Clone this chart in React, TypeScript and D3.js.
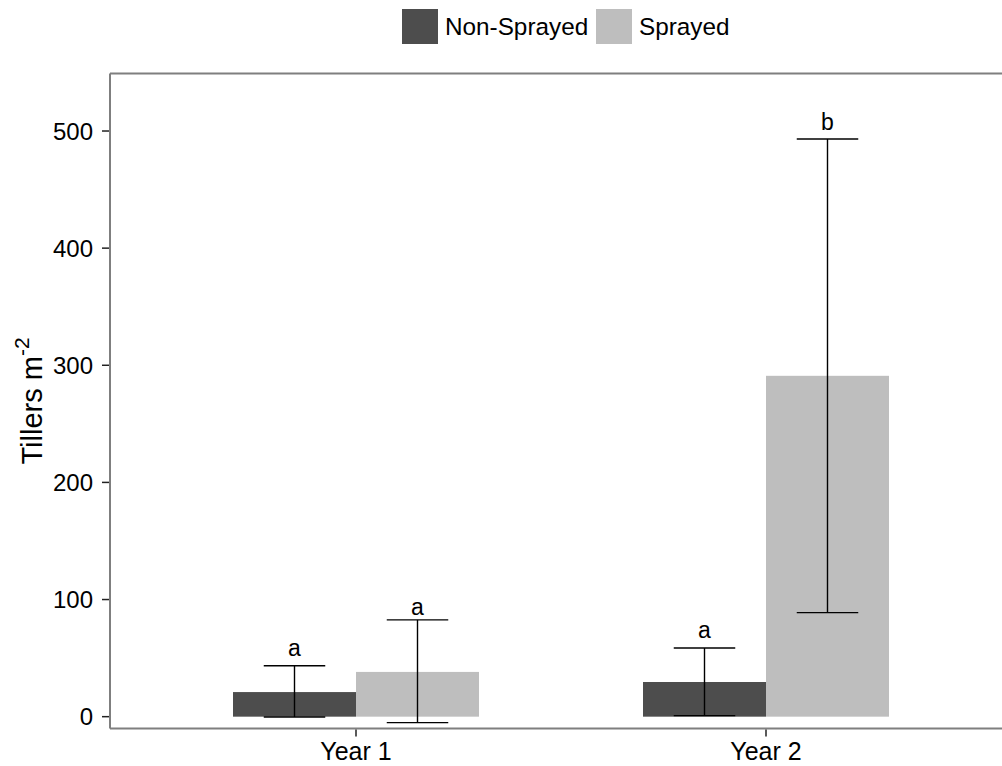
import React from "react";
import * as d3 from "d3";

const categories = ["Year 1", "Year 2"];
const seriesNames = ["Non-Sprayed", "Sprayed"];
const seriesColors = ["#4D4D4D", "#BEBEBE"];
const nonSprayedMean = [21, 29.6];
const nonSprayedLow = [-0.3, 0.9];
const nonSprayedHigh = [43.5, 58.6];
const sprayedMean = [38.2, 291];
const sprayedLow = [-5.1, 88.8];
const sprayedHigh = [82.6, 493.2];
const nonSprayedLetters = ["a", "a"];
const sprayedLetters = ["a", "b"];
const nonSprayedLetterY = [51.8, 66.9];
const sprayedLetterY = [86.8, 500.9];
const yTicks = [0, 100, 200, 300, 400, 500];

const W = 1002;
const H = 766;
const font = "'Liberation Sans', Arial, sans-serif";

export default function App() {
  const panel = { left: 110, right: 1012, top: 73.5, bottom: 728.5 };
  const x = d3.scaleLinear().domain([0.4, 2.6]).range([panel.left, panel.right]);
  const y = d3.scaleLinear().domain([-10.1, 549.1]).range([panel.bottom, panel.top]);
  const barW = 0.3;
  const series = [
    { mean: nonSprayedMean, low: nonSprayedLow, high: nonSprayedHigh, letters: nonSprayedLetters, ly: nonSprayedLetterY, offset: -barW / 2 },
    { mean: sprayedMean, low: sprayedLow, high: sprayedHigh, letters: sprayedLetters, ly: sprayedLetterY, offset: barW / 2 },
  ];
  const bw = x(barW) - x(0);

  return (
    <svg width={W} height={H} style={{ position: "absolute", left: 0, top: 0, background: "#fff" }} fontFamily={font}>
      <rect x={0} y={0} width={W} height={H} fill="#fff" />
      {/* bars */}
      {series.map((s, si) =>
        categories.map((c, ci) => {
          const cx = x(ci + 1 + s.offset);
          return (
            <rect key={`b${si}${ci}`} x={cx - bw / 2} y={y(s.mean[ci])} width={bw} height={y(0) - y(s.mean[ci])} fill={seriesColors[si]} />
          );
        })
      )}
      {/* error bars */}
      {series.map((s, si) =>
        categories.map((c, ci) => {
          const cx = x(ci + 1 + s.offset);
          const hw = bw / 4;
          return (
            <g key={`e${si}${ci}`} stroke="#000" strokeWidth={1.4}>
              <line x1={cx} x2={cx} y1={y(s.low[ci])} y2={y(s.high[ci])} />
              <line x1={cx - hw} x2={cx + hw} y1={y(s.low[ci])} y2={y(s.low[ci])} />
              <line x1={cx - hw} x2={cx + hw} y1={y(s.high[ci])} y2={y(s.high[ci])} />
            </g>
          );
        })
      )}
      {/* letters */}
      {series.map((s, si) =>
        categories.map((c, ci) => (
          <text key={`l${si}${ci}`} x={x(ci + 1 + s.offset)} y={y(s.ly[ci])} textAnchor="middle" fontSize={23} fill="#000">
            {s.letters[ci]}
          </text>
        ))
      )}
      {/* panel border */}
      <g stroke="#7F7F7F" strokeWidth={2} fill="none">
        <line x1={panel.left} x2={panel.right} y1={panel.top} y2={panel.top} />
        <line x1={panel.left} x2={panel.right} y1={panel.bottom} y2={panel.bottom} />
        <line x1={panel.left} x2={panel.left} y1={panel.top} y2={panel.bottom} />
        <line x1={panel.right} x2={panel.right} y1={panel.top} y2={panel.bottom} />
      </g>
      {/* y axis */}
      {yTicks.map((t) => (
        <g key={`yt${t}`}>
          <line x1={panel.left - 8} x2={panel.left - 1} y1={y(t)} y2={y(t)} stroke="#222" strokeWidth={1.5} />
          <text x={panel.left - 17} y={y(t)} dy="0.36em" textAnchor="end" fontSize={24} fill="#000">
            {t}
          </text>
        </g>
      ))}
      {/* x axis */}
      {categories.map((c, ci) => (
        <g key={`xt${ci}`}>
          <line x1={x(ci + 1)} x2={x(ci + 1)} y1={panel.bottom + 1} y2={panel.bottom + 8} stroke="#222" strokeWidth={1.5} />
          <text x={x(ci + 1)} y={panel.bottom + 31.5} textAnchor="middle" fontSize={25} fill="#000">
            {c}
          </text>
        </g>
      ))}
      {/* y title */}
      <text transform={`translate(42, ${(panel.top + panel.bottom) / 2}) rotate(-90)`} textAnchor="middle" fontSize={29} fill="#000">
        Tillers m<tspan fontSize={21} dy={-13}>-2</tspan>
      </text>
      {/* legend */}
      <g>
        <rect x={402} y={9} width={36} height={35} fill={seriesColors[0]} />
        <text x={445} y={26.5} dy="0.36em" fontSize={24.3} fill="#000">{seriesNames[0]}</text>
        <rect x={596} y={9} width={36} height={35} fill={seriesColors[1]} />
        <text x={639} y={26.5} dy="0.36em" fontSize={24.3} fill="#000">{seriesNames[1]}</text>
      </g>
    </svg>
  );
}
